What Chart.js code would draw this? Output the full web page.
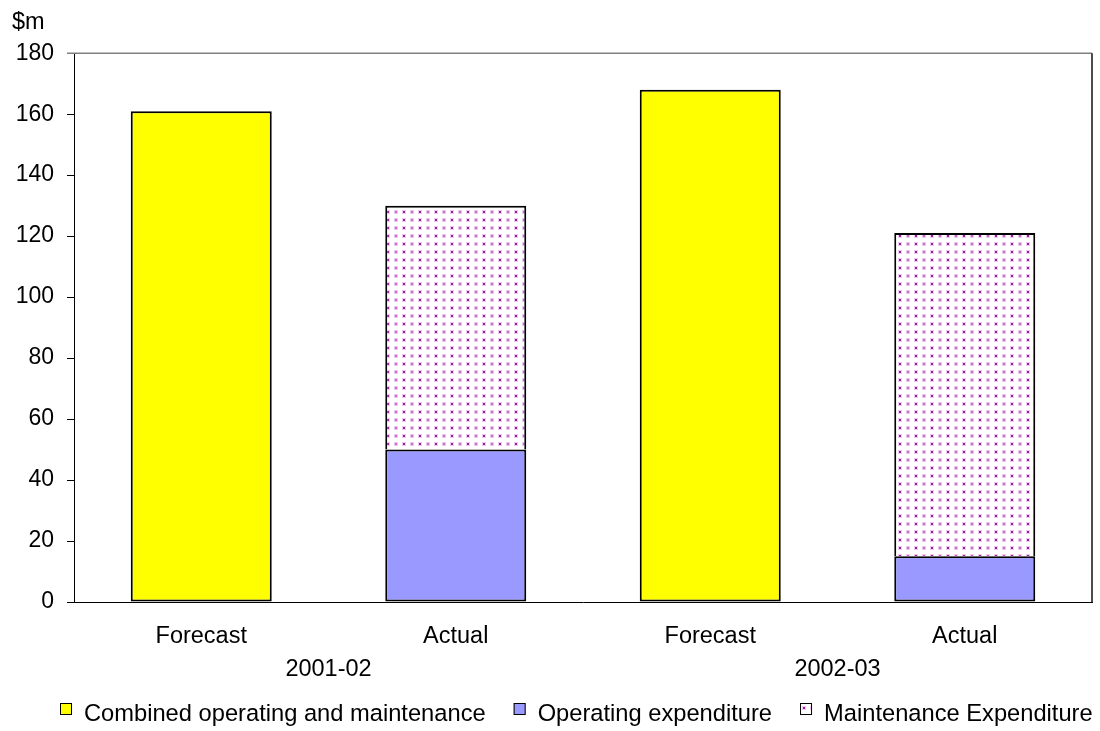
<!DOCTYPE html>
<html>
<head>
<meta charset="utf-8">
<script src="https://cdn.jsdelivr.net/npm/chart.js@4.4.1/dist/chart.umd.min.js"></script>
<style>
  html, body { margin: 0; padding: 0; background: #fff; }
  #wrap { width: 1100px; height: 731px; }
</style>
</head>
<body>
<div id="wrap"><canvas id="c" width="1100" height="731"></canvas></div>
<script>
// Bars: forecast vs actual spending per financial year ($m)
const categories = ['Forecast', 'Actual', 'Forecast', 'Actual'];
const years = ['2001-02', '2002-03'];
const combined = [161, null, 168, null];
const operating = [null, 50, null, 15];
const maintenance = [null, 80, null, 106];
const seriesNames = ['Combined operating and maintenance', 'Operating expenditure', 'Maintenance Expenditure'];
const unitLabel = '$m';

const FONT = '"Liberation Sans", Arial, sans-serif';
Chart.defaults.font.family = FONT;
Chart.defaults.color = '#000';

const canvas = document.getElementById('c');
const ctx = canvas.getContext('2d');

// Dotted fill used for maintenance expenditure
function dotPattern() {
  const t = document.createElement('canvas');
  t.width = 16; t.height = 8;
  const g = t.getContext('2d');
  g.fillStyle = '#ffffff';
  g.fillRect(0, 0, 16, 8);
  // soft halo + core for each dot
  g.fillStyle = '#ecc8ec';
  g.fillRect(2, 2, 4, 4);
  g.fillRect(10, 2, 4, 4);
  g.fillStyle = '#a21fa2';
  g.fillRect(3, 3, 2, 2);
  g.fillStyle = '#c66ac6';
  g.fillRect(11, 3, 2, 2);
  return ctx.createPattern(t, 'repeat');
}
const dots = dotPattern();

// Grey top edge and dark right edge around the plot area
const frame = {
  id: 'frame',
  afterDatasetsDraw(chart) {
    const { ctx, chartArea: { left, right, top, bottom } } = chart;
    ctx.save();
    ctx.lineWidth = 1.5;
    ctx.strokeStyle = '#808080';
    ctx.beginPath();
    ctx.moveTo(left - 7, top);
    ctx.lineTo(right, top);
    ctx.stroke();
    ctx.strokeStyle = '#111';
    ctx.beginPath();
    ctx.moveTo(right, top);
    ctx.lineTo(right, bottom);
    ctx.stroke();
    ctx.restore();
  }
};

// Single-row legend under the year labels
const legendRow = {
  id: 'legendRow',
  afterDraw(chart) {
    const { ctx, chartArea } = chart;
    const fontSize = 23.7, box = 12, textGap = 12, itemGap = 28;
    const yMid = chart.height - 17;
    let x = chartArea.left - 14;
    ctx.save();
    ctx.font = fontSize + 'px ' + FONT;
    ctx.textBaseline = 'middle';
    ctx.textAlign = 'left';
    chart.data.datasets.forEach(ds => {
      ctx.fillStyle = ds.backgroundColor;
      ctx.fillRect(x, yMid - 11, box, box);
      ctx.lineWidth = 1;
      ctx.strokeStyle = '#000';
      ctx.strokeRect(x + 0.5, yMid - 10.5, box - 1, box - 1);
      ctx.fillStyle = '#000';
      ctx.fillText(ds.label, x + box + textGap, yMid);
      x += box + textGap + ctx.measureText(ds.label).width + itemGap;
    });
    ctx.restore();
  }
};

new Chart(ctx, {
  type: 'bar',
  data: {
    labels: categories,
    datasets: [
      { label: seriesNames[0], data: combined, xAxisID: 'x', backgroundColor: '#ffff00',
        borderColor: '#000', borderWidth: 2, borderSkipped: false },
      { label: seriesNames[1], data: operating, xAxisID: 'x', backgroundColor: '#9999ff',
        borderColor: '#000', borderWidth: 2, borderSkipped: false },
      { label: seriesNames[2], data: maintenance, xAxisID: 'x', backgroundColor: dots,
        borderColor: '#000', borderWidth: 2, borderSkipped: 'start' }
    ]
  },
  options: {
    responsive: false,
    animation: false,
    devicePixelRatio: 1,
    layout: { padding: { left: 12, right: 8, top: 0, bottom: 47.4 } },
    datasets: { bar: { barPercentage: 0.554, categoryPercentage: 1 } },
    scales: {
      x: {
        stacked: true,
        position: 'bottom',
        weight: 0,
        grid: { display: false, drawTicks: false },
        border: { display: true, color: '#000', width: 1 },
        ticks: { padding: 20.6, color: '#000', font: { size: 23.5 } },
        afterFit(s) { s.height = 48.8; }
      },
      period: {
        type: 'category',
        labels: years,
        offset: true,
        position: 'bottom',
        weight: 1,
        grid: { display: false, drawTicks: false },
        border: { display: false },
        ticks: { padding: 4.6, color: '#000', font: { size: 23.5 } },
        afterFit(s) { s.height = 32.8; }
      },
      y: {
        stacked: true,
        min: 0,
        max: 180,
        ticks: { stepSize: 20, padding: 13, color: '#000', font: { size: 23 } },
        grid: { drawOnChartArea: false, drawTicks: true, tickLength: 7, color: '#000' },
        border: { display: true, color: '#000', width: 1 },
        afterFit(s) { s.width = 62; }
      }
    },
    plugins: {
      title: {
        display: true,
        text: unitLabel,
        align: 'start',
        color: '#000',
        font: { size: 23.5, weight: 'normal' },
        padding: { top: 8, bottom: 17 }
      },
      legend: { display: false },
      tooltip: { enabled: false }
    }
  },
  plugins: [frame, legendRow]
});
</script>
</body>
</html>
